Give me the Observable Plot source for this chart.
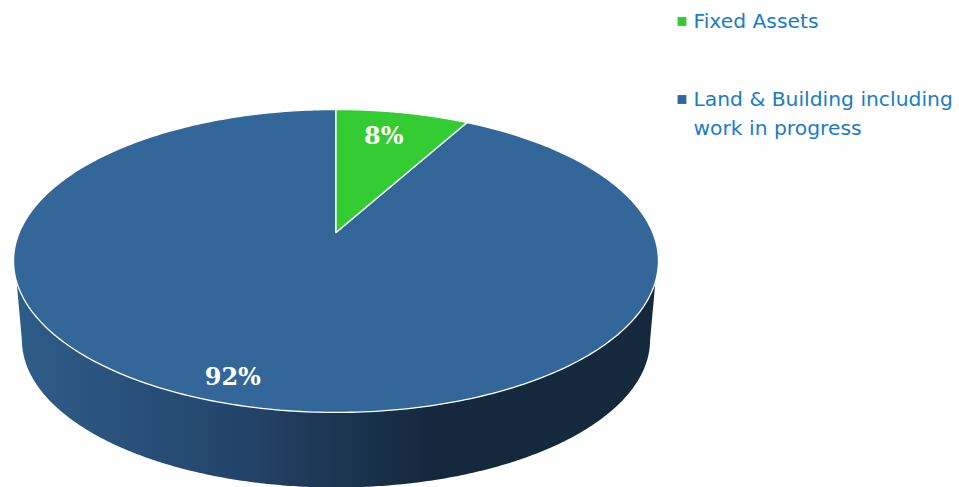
<!DOCTYPE html>
<html>
<head>
<meta charset="utf-8">
<script src="https://cdn.jsdelivr.net/npm/d3@7"></script>
<script src="https://cdn.jsdelivr.net/npm/@observablehq/plot@0.6"></script>
<style>html,body{margin:0;padding:0;background:#fff;overflow:hidden}svg{display:block}</style>
</head>
<body>
<div id="chart"></div>
<script>
const categories = ["Fixed Assets", "Land & Building including\nwork in progress"];
const shares = [8, 92];
const labels = ["8%", "92%"];
const colors = ["#33cc33", "#336699"];

// Perspective view of the pie: a tilted circle projected to the page
const view = {cx: 335.5, apexY: 232, A: 316.7, B: 146.1, k: 0.188};
const base = {scale: 0.974, topCy: 260.5, cy: 339.5};
const project = (deg, r = 1) => {
  const t = deg * Math.PI / 180, u = r * Math.sin(t), v = -r * Math.cos(t), w = 1 - view.k * v;
  return {x: view.cx + view.A * u / w, y: view.apexY + view.B * v / w};
};
const projectBase = (deg) => {
  const p = project(deg);
  return {x: view.cx + base.scale * (p.x - view.cx), y: base.cy + base.scale * (p.y - base.topCy)};
};
const steps = (a, b, n = 360) => d3.range(n + 1).map(i => a + (b - a) * i / n);

const total = d3.sum(shares);
const ends = d3.cumsum(shares).map(s => s / total * 360);
const slices = categories.map((c, i) => {
  const a0 = i ? ends[i - 1] : 0, a1 = ends[i];
  return [project(0, 0), ...steps(a0, a1).map(d => project(d)), project(0, 0)];
});

const rim = [
  ...steps(90, 270).map(d => project(d)).filter(p => p.y >= 280),
  ...steps(270, 90).map(projectBase).filter(p => p.y >= base.cy)
];

const labelNudge = [-5, -22];
const labelPoints = labels.map((text, i) => {
  const mid = (i ? ends[i - 1] : 0) + shares[i] / total * 180;
  const p = project(mid, i ? 0.868 : 0.764);
  return {text, x: p.x + labelNudge[i], y: p.y - 1};
});
const legendRows = [21, 99];
const legend = categories.map((c, i) => ({c, y: legendRows[i], color: colors[i]}));

const defs = () => {
  const d = d3.create("svg:defs");
  const g = d.append("linearGradient").attr("id", "rimShade").attr("gradientUnits", "userSpaceOnUse")
    .attr("x1", 22).attr("x2", 648).attr("y1", 0).attr("y2", 0);
  [[0, "#2e5c88"], [0.35, "#23446a"], [0.5, "#1c3552"], [0.65, "#15293d"], [1, "#15293d"]]
    .forEach(([o, c]) => g.append("stop").attr("offset", o).attr("stop-color", c));
  return d.node();
};

const chart = Plot.plot({
  width: 959, height: 487, margin: 0,
  x: {domain: [0, 959], range: [0, 959], axis: null},
  y: {domain: [0, 487], range: [0, 487], axis: null},
  marks: [
    defs,
    Plot.line(rim, {x: "x", y: "y", fill: "url(#rimShade)", stroke: "none", curve: "linear"}),
    Plot.line(slices[1], {x: "x", y: "y", fill: colors[1], stroke: "#fff", strokeWidth: 1.3, curve: "linear"}),
    Plot.line(slices[0], {x: "x", y: "y", fill: colors[0], stroke: "#fff", strokeWidth: 1.3, curve: "linear"}),
    Plot.text(labelPoints, {x: "x", y: "y", text: "text", fill: "#fff", fontFamily: "DejaVu Serif", fontWeight: "bold", fontSize: 24}),
    Plot.dot(legend, {x: () => 681.5, y: "y", symbol: "square", r: 5, fill: "color", stroke: "none"}),
    Plot.text(legend, {x: () => 693, y: "y", text: "c", textAnchor: "start", lineAnchor: "top", dy: -13.5, lineHeight: 1.42, fill: "#1b7cc4", fontFamily: "DejaVu Sans", fontSize: 20.3})
  ]
});
document.getElementById("chart").append(chart);
</script>
</body>
</html>
